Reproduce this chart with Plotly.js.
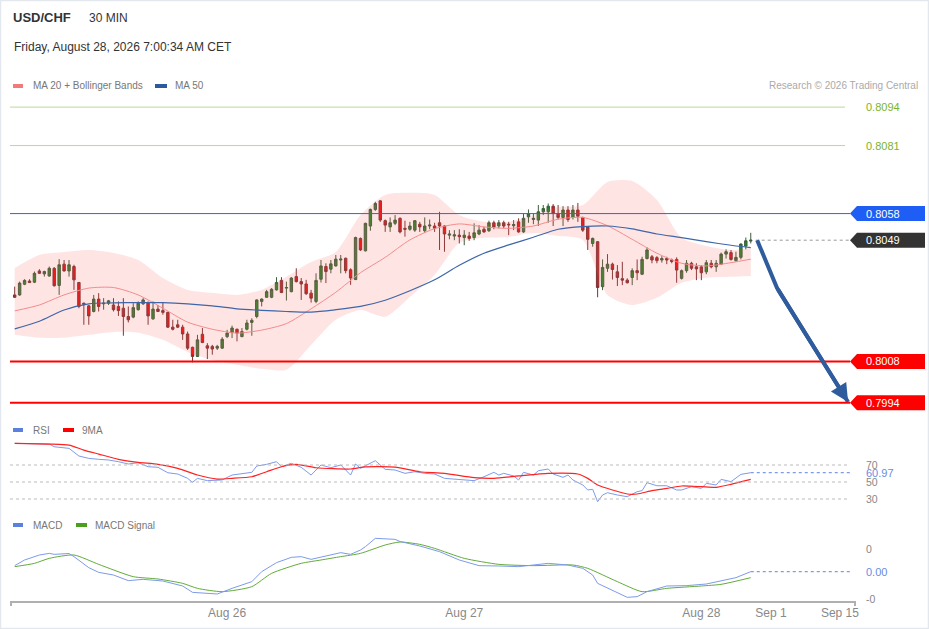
<!DOCTYPE html>
<html><head><meta charset="utf-8">
<script src="https://cdn.plot.ly/plotly-3.0.1.min.js"></script>
<style>html,body{margin:0;padding:0;background:#fff}#chart{width:929px;height:629px}</style>
</head><body><div id="chart"></div>
<script>
// ---------------- DATA ----------------
const symbol = "USD/CHF";
const timeframe = "30 MIN";
const stamp = "Friday, August 28, 2026 7:00:34 AM CET";

const opens = [0.80305,0.80305,0.80341,0.80352,0.80348,0.80386,0.80376,0.80369,0.80395,0.80337,
0.80409,0.80386,0.80401,0.80347,0.80277,0.80268,0.80249,0.80291,0.80275,0.80277,
0.80271,0.80266,0.80260,0.80232,0.80230,0.80255,0.80275,0.80279,0.80224,0.80257,
0.80252,0.80246,0.80196,0.80204,0.80196,0.80173,0.80128,0.80097,0.80172,0.80133,
0.80131,0.80125,0.80125,0.80164,0.80178,0.80189,0.80164,0.80189,0.80212,0.80232,
0.80283,0.80297,0.80297,0.80322,0.80354,0.80328,0.80316,0.80367,0.80350,0.80342,
0.80311,0.80283,0.80358,0.80401,0.80392,0.80403,0.80423,0.80429,0.80390,0.80357,
0.80496,0.80454,0.80538,0.80594,0.80623,0.80556,0.80535,0.80547,0.80564,0.80530,
0.80527,0.80524,0.80544,0.80522,0.80538,0.80538,0.80549,0.80538,0.80507,0.80504,
0.80507,0.80499,0.80504,0.80499,0.80511,0.80527,0.80522,0.80549,0.80538,0.80549,
0.80544,0.80539,0.80552,0.80518,0.80569,0.80560,0.80558,0.80586,0.80586,0.80605,
0.80580,0.80567,0.80592,0.80567,0.80592,0.80567,0.80535,0.80479,0.80485,0.80333,
0.80395,0.80409,0.80383,0.80360,0.80355,0.80364,0.80387,0.80375,0.80428,0.80434,
0.80431,0.80423,0.80428,0.80423,0.80425,0.80361,0.80387,0.80412,0.80400,0.80400,
0.80383,0.80412,0.80400,0.80409,0.80443,0.80448,0.80421,0.80432,0.80470,0.80487];

const highs = [0.80333,0.80350,0.80358,0.80358,0.80384,0.80392,0.80387,0.80401,0.80399,0.80426,
0.80423,0.80423,0.80407,0.80349,0.80279,0.80271,0.80305,0.80311,0.80294,0.80288,
0.80294,0.80283,0.80294,0.80266,0.80277,0.80283,0.80294,0.80283,0.80283,0.80271,
0.80279,0.80248,0.80221,0.80221,0.80204,0.80181,0.80130,0.80170,0.80193,0.80142,
0.80136,0.80136,0.80162,0.80187,0.80201,0.80191,0.80193,0.80221,0.80226,0.80290,
0.80293,0.80322,0.80328,0.80365,0.80365,0.80350,0.80365,0.80395,0.80362,0.80356,
0.80322,0.80378,0.80423,0.80412,0.80423,0.80440,0.80440,0.80431,0.80395,0.80502,
0.80499,0.80549,0.80597,0.80620,0.80625,0.80560,0.80567,0.80575,0.80567,0.80556,
0.80552,0.80558,0.80552,0.80567,0.80560,0.80549,0.80586,0.80541,0.80524,0.80524,
0.80527,0.80524,0.80518,0.80547,0.80541,0.80535,0.80556,0.80556,0.80558,0.80556,
0.80552,0.80558,0.80564,0.80580,0.80594,0.80580,0.80609,0.80609,0.80614,0.80612,
0.80609,0.80605,0.80605,0.80609,0.80616,0.80569,0.80538,0.80499,0.80487,0.80425,
0.80443,0.80414,0.80406,0.80417,0.80361,0.80395,0.80425,0.80434,0.80466,0.80440,
0.80436,0.80436,0.80434,0.80428,0.80432,0.80391,0.80423,0.80417,0.80412,0.80406,
0.80423,0.80423,0.80423,0.80448,0.80459,0.80457,0.80451,0.80479,0.80499,0.80515];

const lows = [0.80295,0.80302,0.80338,0.80345,0.80345,0.80376,0.80367,0.80367,0.80333,0.80305,
0.80384,0.80367,0.80322,0.80260,0.80204,0.80204,0.80246,0.80249,0.80255,0.80271,
0.80249,0.80234,0.80167,0.80212,0.80226,0.80252,0.80271,0.80204,0.80221,0.80247,
0.80238,0.80193,0.80185,0.80193,0.80153,0.80119,0.80077,0.80095,0.80142,0.80088,
0.80103,0.80119,0.80123,0.80159,0.80159,0.80148,0.80162,0.80185,0.80167,0.80226,
0.80266,0.80295,0.80294,0.80320,0.80311,0.80286,0.80314,0.80347,0.80288,0.80305,
0.80279,0.80277,0.80347,0.80345,0.80378,0.80401,0.80378,0.80378,0.80339,0.80355,
0.80454,0.80452,0.80522,0.80589,0.80552,0.80518,0.80518,0.80541,0.80513,0.80502,
0.80522,0.80518,0.80518,0.80515,0.80527,0.80518,0.80457,0.80451,0.80493,0.80490,
0.80479,0.80473,0.80488,0.80490,0.80507,0.80515,0.80518,0.80527,0.80530,0.80530,
0.80507,0.80524,0.80515,0.80515,0.80549,0.80544,0.80538,0.80575,0.80549,0.80538,
0.80560,0.80538,0.80552,0.80560,0.80552,0.80518,0.80457,0.80468,0.80297,0.80321,
0.80383,0.80357,0.80335,0.80338,0.80344,0.80338,0.80355,0.80372,0.80425,0.80412,
0.80412,0.80414,0.80409,0.80412,0.80346,0.80357,0.80380,0.80389,0.80355,0.80355,
0.80375,0.80395,0.80383,0.80406,0.80428,0.80421,0.80417,0.80425,0.80459,0.80479];

const closes = [0.80297,0.80345,0.80354,0.80347,0.80378,0.80378,0.80384,0.80395,0.80336,0.80407,
0.80386,0.80407,0.80356,0.80266,0.80273,0.80234,0.80291,0.80266,0.80277,0.80285,
0.80255,0.80252,0.80232,0.80221,0.80262,0.80277,0.80288,0.80234,0.80257,0.80249,
0.80246,0.80196,0.80189,0.80196,0.80173,0.80125,0.80097,0.80153,0.80144,0.80125,
0.80122,0.80131,0.80155,0.80176,0.80193,0.80176,0.80181,0.80210,0.80219,0.80288,
0.80291,0.80316,0.80324,0.80347,0.80313,0.80330,0.80362,0.80350,0.80342,0.80309,
0.80294,0.80354,0.80403,0.80384,0.80410,0.80426,0.80426,0.80387,0.80362,0.80499,
0.80457,0.80547,0.80594,0.80614,0.80558,0.80541,0.80549,0.80558,0.80518,0.80527,
0.80538,0.80556,0.80535,0.80538,0.80541,0.80530,0.80538,0.80511,0.80511,0.80508,
0.80502,0.80507,0.80496,0.80515,0.80524,0.80518,0.80549,0.80535,0.80549,0.80538,
0.80542,0.80543,0.80518,0.80564,0.80580,0.80564,0.80586,0.80597,0.80605,0.80580,
0.80567,0.80592,0.80560,0.80592,0.80571,0.80524,0.80493,0.80496,0.80330,0.80398,
0.80409,0.80391,0.80364,0.80355,0.80346,0.80387,0.80380,0.80425,0.80457,0.80423,
0.80421,0.80428,0.80423,0.80418,0.80389,0.80387,0.80412,0.80395,0.80393,0.80380,
0.80414,0.80400,0.80412,0.80443,0.80451,0.80425,0.80432,0.80477,0.80488,0.80490];

// indicator samples (candle index -> value)
const bandIdx = [0,5,10,15,20,25,30,35,40,45,50,55,60,65,70,75,80,85,90,95,100,105,110,115,120,125,130,135,140,145,149];
const ma20 = [0.80251,0.80271,0.80305,0.80328,0.80330,0.80305,0.80260,0.80213,0.80189,0.80176,0.80186,0.80208,0.80258,0.80314,0.80380,0.80432,0.80491,0.80529,0.80545,0.80535,0.80530,0.80538,0.80561,0.80567,0.80539,0.80493,0.80446,0.80412,0.80403,0.80414,0.80426];
const ma50 = [0.80190,0.80216,0.80254,0.80275,0.80278,0.80279,0.80279,0.80275,0.80268,0.80258,0.80253,0.80249,0.80247,0.80255,0.80266,0.80287,0.80319,0.80356,0.80405,0.80446,0.80474,0.80500,0.80527,0.80536,0.80538,0.80528,0.80511,0.80499,0.80485,0.80473,0.80465];
const bbUpper = [0.80396,0.80440,0.80450,0.80457,0.80447,0.80423,0.80362,0.80322,0.80312,0.80305,0.80322,0.80366,0.80416,0.80450,0.80575,0.80643,0.80650,0.80643,0.80575,0.80552,0.80552,0.80575,0.80602,0.80609,0.80687,0.80690,0.80626,0.80498,0.80470,0.80457,0.80464];
const bbLower = [0.80170,0.80160,0.80160,0.80170,0.80180,0.80177,0.80153,0.80112,0.80085,0.80069,0.80055,0.80052,0.80136,0.80221,0.80254,0.80231,0.80298,0.80373,0.80481,0.80498,0.80501,0.80514,0.80504,0.80491,0.80305,0.80271,0.80295,0.80346,0.80363,0.80366,0.80369];

const rsiIdx = [0,7,8,11,13,15,17,19,21,23,25,27,29,31,33,35,36,37,39,42,44,46,48,49,51,53,54,56,58,60,62,64,66,68,69,70,72,73,75,77,79,81,83,85,87,89,91,93,95,97,98,99,101,102,103,105,106,108,109,111,112,113,115,116,117,118,119,120,122,124,126,127,128,130,132,134,135,137,139,140,142,143,145,147,149];
const rsiVal = [95.5,94.7,91.5,89.6,80.6,77.8,76.7,75.9,73.9,71.2,72.7,68.0,67.3,60.9,59.4,54.3,49.6,54.3,51.6,52.4,58.2,59.4,61.4,68.8,70.8,73.9,68.0,72.0,67.3,58.2,70.0,66.8,70.0,58.2,71.2,66.1,72.0,75.1,64.9,64.1,60.2,62.1,60.2,59.4,54.3,53.5,53.1,51.6,56.2,61.4,58.2,60.2,57.1,52.4,61.4,58.2,63.3,65.3,59.4,55.5,58.2,52.4,46.5,40.6,41.4,26.8,34.7,37.4,34.7,32.7,38.6,39.8,49.2,45.6,45.6,40.6,40.6,44.5,42.5,48.4,46.5,53.1,50.4,59.0,60.97];
const rsiMaIdx = [0,7,11,14,17,21,25,29,33,37,41,44,48,51,54,57,61,68,71,77,82,87,93,97,102,108,114,116,118,121,124,126,129,132,135,139,142,145,149];
const rsiMaVal = [95.5,94.7,93.5,87.6,82.9,76.7,73.1,70.8,66.1,58.2,53.5,54.3,56.2,62.1,68.0,70.8,66.8,65.3,67.8,67.5,62.1,60.2,55.1,54.3,57.1,60.2,59.4,54.3,46.5,40.6,35.9,35.9,39.8,42.5,45.3,44.5,43.7,47.3,53.1];
const rsiLevels = [70, 50, 30];

const macdIdx = [0,2,5,7,8,10,11,12,15,17,20,23,26,30,34,36,39,41,44,48,50,53,56,58,60,63,66,68,70,71,73,77,78,82,86,90,94,98,102,108,112,115,117,118,121,124,126,128,132,136,140,144,146,149];
const macdVal = [0.000167,0.00028,0.00038,0.000413,0.000393,0.00041,0.00041,0.000347,0.000127,0.000033,-0.00002,-0.000133,-0.000107,-0.00014,-0.00024,-0.000367,-0.000387,-0.0004,-0.000287,-0.000153,0.000047,0.000227,0.000333,0.000347,0.000293,0.000367,0.000427,0.000393,0.00048,0.000547,0.000713,0.000693,0.00065,0.00056,0.000447,0.00028,0.000167,0.00016,0.000147,0.000213,0.00018,0.000113,-0.00002,-0.000187,-0.00032,-0.000467,-0.000453,-0.000353,-0.00024,-0.000233,-0.0002,-0.00012,-0.000073,0.000047];
const sigIdx = [0,4,7,12,17,24,29,34,37,42,48,52,58,62,66,70,75,78,82,85,91,98,105,113,116,122,127,132,139,143,149];
const sigVal = [0.000147,0.000213,0.000313,0.00038,0.000193,-0.000053,-0.0001,-0.000187,-0.000287,-0.000353,-0.000253,0.000013,0.000213,0.00028,0.000347,0.000413,0.00058,0.00064,0.000593,0.000513,0.000313,0.000193,0.000167,0.00018,0.000113,-0.000153,-0.000353,-0.000287,-0.00024,-0.000207,-0.000073];
const macdTickVals = [0.0005, -0.0005];
const macdTickText = ["0", "-0"];

const levelsTarget = [0.8094, 0.8081];
const levelPivot = 0.8058;
const levelsSupport = [0.8008, 0.7994];

const forecastIdx = [150.3, 154.3, 168.7];
const forecastVal = [0.8049, 0.80329, 0.79943];

const tickIdx = [43, 91, 139, 153.1, 167.05];
const tickText = ["Aug 26", "Aug 27", "Aug 28", "Sep 1", "Sep 15"];

// ---------------- LAYOUT HELPERS ----------------
const W = 929, H = 629, ML = 10, MR = 74, MT = 0, MB = 28;
const PW = W - ML - MR, PH = H - MT - MB;
const fx = px => (px - ML) / PW;            // pixel x -> paper
const fy = py => (PH + MT - py) / PH;       // pixel y -> paper
const xRange = [-0.95, 170.1];
const xAtPaper = f => xRange[0] + f * (xRange[1] - xRange[0]);

const mainDom = [fy(415), fy(100)], mainRange = [0.79899, 0.80964];
const rsiDom = [fy(508), fy(438)], rsiRange = [19.4, 101.8];
const macdDom = [0, fy(530)], macdRange = [-0.00054, 0.00088];
const toPaper = (v, dom, rng) => dom[0] + (v - rng[0]) / (rng[1] - rng[0]) * (dom[1] - dom[0]);

const FONT = "Liberation Sans, Arial, sans-serif";
const idx = closes.map((_, i) => i);
const lastI = idx[idx.length - 1];
const lastClose = closes[closes.length - 1];
const lastRsi = rsiVal[rsiVal.length - 1];
const lastMacd = macdVal[macdVal.length - 1];
const xEnd = xAtPaper(fx(850));

const traces = [
  {x: bandIdx, y: bbUpper, type: 'scatter', mode: 'lines', line: {width: 0, shape: 'spline', smoothing: 0.7}, hoverinfo: 'skip', xaxis: 'x', yaxis: 'y'},
  {x: bandIdx, y: bbLower, type: 'scatter', mode: 'lines', line: {width: 0, shape: 'spline', smoothing: 0.7}, fill: 'tonexty', fillcolor: 'rgba(255,90,90,0.16)', hoverinfo: 'skip', xaxis: 'x', yaxis: 'y'},
  {x: bandIdx, y: ma20, type: 'scatter', mode: 'lines', line: {width: 1, color: '#f38b8b', shape: 'spline', smoothing: 0.7}, hoverinfo: 'skip', xaxis: 'x', yaxis: 'y'},
  {x: bandIdx, y: ma50, type: 'scatter', mode: 'lines', line: {width: 1.2, color: '#3e66a8', shape: 'spline', smoothing: 0.7}, hoverinfo: 'skip', xaxis: 'x', yaxis: 'y'},
  {type: 'candlestick', x: idx, open: opens, high: highs, low: lows, close: closes,
   increasing: {line: {color: '#3c5e3c', width: 1}, fillcolor: '#2a8a2a'},
   decreasing: {line: {color: '#7a3434', width: 1}, fillcolor: '#ee1111'},
   whiskerwidth: 0, hoverinfo: 'skip', xaxis: 'x', yaxis: 'y'},
  {x: [lastI + 1, xEnd], y: [lastClose, lastClose], type: 'scatter', mode: 'lines', line: {width: 1, color: '#999', dash: 'dot'}, hoverinfo: 'skip', xaxis: 'x', yaxis: 'y'},
  {x: forecastIdx, y: forecastVal, type: 'scatter', mode: 'lines', line: {width: 4, color: '#2f5c9c'}, hoverinfo: 'skip', xaxis: 'x', yaxis: 'y'},
  // RSI
  {x: rsiIdx, y: rsiVal, type: 'scatter', mode: 'lines', line: {width: 1, color: '#7d9bea'}, hoverinfo: 'skip', xaxis: 'x', yaxis: 'y2'},
  {x: rsiMaIdx, y: rsiMaVal, type: 'scatter', mode: 'lines', line: {width: 1.2, color: '#f22', shape: 'spline', smoothing: 0.6}, hoverinfo: 'skip', xaxis: 'x', yaxis: 'y2'},
  {x: [lastI, xEnd], y: [lastRsi, lastRsi], type: 'scatter', mode: 'lines', line: {width: 1.2, color: '#7d9bea', dash: 'dot'}, hoverinfo: 'skip', xaxis: 'x', yaxis: 'y2'},
  // MACD
  {x: sigIdx, y: sigVal, type: 'scatter', mode: 'lines', line: {width: 1, color: '#62ab3a', shape: 'spline', smoothing: 0.6}, hoverinfo: 'skip', xaxis: 'x', yaxis: 'y3'},
  {x: macdIdx, y: macdVal, type: 'scatter', mode: 'lines', line: {width: 1, color: '#7d9bea'}, hoverinfo: 'skip', xaxis: 'x', yaxis: 'y3'},
  {x: [lastI, xEnd], y: [lastMacd, lastMacd], type: 'scatter', mode: 'lines', line: {width: 1.2, color: '#7d9bea', dash: 'dot'}, hoverinfo: 'skip', xaxis: 'x', yaxis: 'y3'}
];

const shapes = [];
const annotations = [];

// outer frame
shapes.push({type: 'rect', xref: 'paper', yref: 'paper', x0: fx(0.5), x1: fx(928.5), y0: fy(628.5), y1: fy(0.5), line: {color: '#e3e8ee', width: 1.5}});

// target levels (green)
levelsTarget.forEach(v => {
  shapes.push({type: 'line', xref: 'x', yref: 'y', x0: xRange[0], x1: xAtPaper(fx(845)), y0: v, y1: v, line: {color: '#b9d99c', width: 1}});
  annotations.push({xref: 'paper', yref: 'y', x: fx(864), y: v, xanchor: 'left', yanchor: 'middle', text: v.toFixed(4), showarrow: false, font: {family: FONT, size: 11, color: '#7cb32a'}});
});

// tag helper
function tag(v, color, lineColor, lineW, drawLine) {
  if (drawLine) shapes.push({type: 'line', xref: 'x', yref: 'y', x0: xRange[0], x1: xEnd, y0: v, y1: v, line: {color: lineColor, width: lineW}});
  const yc = toPaper(v, mainDom, mainRange), h = 7.5 / PH;
  const xa = fx(850), xb = fx(857), xc = fx(925);
  shapes.push({type: 'path', xref: 'paper', yref: 'paper', fillcolor: color, line: {width: 0},
    path: `M ${xa},${yc} L ${xb},${yc + h} L ${xc},${yc + h} L ${xc},${yc - h} L ${xb},${yc - h} Z`});
  annotations.push({xref: 'paper', yref: 'paper', x: fx(864), y: yc, xanchor: 'left', yanchor: 'middle', text: v.toFixed(4), showarrow: false, font: {family: FONT, size: 11, color: '#ffffff'}});
}
tag(levelPivot, '#1f5ef5', '#3362e0', 1, true);
tag(lastClose, '#333333', '#999', 1, false);
levelsSupport.forEach(v => tag(v, '#ff0000', '#ff0000', 2, true));

// forecast arrowhead
annotations.push({xref: 'x', yref: 'y', axref: 'x', ayref: 'y', x: forecastIdx[2], y: forecastVal[2], ax: forecastIdx[1], ay: forecastVal[1],
  text: '', showarrow: true, arrowhead: 2, arrowsize: 0.9, arrowwidth: 4, arrowcolor: '#2f5c9c', standoff: 0});

// RSI level lines + labels
rsiLevels.forEach(v => {
  shapes.push({type: 'line', xref: 'x', yref: 'y2', x0: xRange[0], x1: xEnd, y0: v, y1: v, line: {color: '#bbb', width: 1, dash: 'dot'}});
  annotations.push({xref: 'paper', yref: 'y2', x: fx(864), y: v, xanchor: 'left', yanchor: 'middle', text: String(v), showarrow: false, font: {family: FONT, size: 10.5, color: '#888'}});
});
annotations.push({xref: 'paper', yref: 'y2', x: fx(864), y: lastRsi, xanchor: 'left', yanchor: 'middle', text: lastRsi.toFixed(2), showarrow: false, font: {family: FONT, size: 11, color: '#6a8ae6'}});

// MACD labels
macdTickVals.forEach((v, k) => annotations.push({xref: 'paper', yref: 'y3', x: fx(864), y: v, xanchor: 'left', yanchor: 'middle', text: macdTickText[k], showarrow: false, font: {family: FONT, size: 10.5, color: '#888'}}));
annotations.push({xref: 'paper', yref: 'y3', x: fx(864), y: lastMacd, xanchor: 'left', yanchor: 'middle', text: Math.abs(lastMacd).toFixed(2), showarrow: false, font: {family: FONT, size: 11, color: '#6a8ae6'}});

// x axis end ticks
[fx(11), fx(855)].forEach(xp => shapes.push({type: 'line', xref: 'paper', yref: 'paper', x0: xp, x1: xp, y0: 0, y1: fy(606), line: {color: '#b0b0b0', width: 2}}));

// header texts
annotations.push({xref: 'paper', yref: 'paper', x: fx(11), y: fy(18), xanchor: 'left', yanchor: 'middle', text: '<b>' + symbol + '</b>', showarrow: false, font: {family: FONT, size: 13, color: '#333'}});
annotations.push({xref: 'paper', yref: 'paper', x: fx(87), y: fy(18), xanchor: 'left', yanchor: 'middle', text: timeframe, showarrow: false, font: {family: FONT, size: 12, color: '#333'}});
annotations.push({xref: 'paper', yref: 'paper', x: fx(12), y: fy(47), xanchor: 'left', yanchor: 'middle', text: stamp, showarrow: false, font: {family: FONT, size: 12, color: '#333'}});
annotations.push({xref: 'paper', yref: 'paper', x: fx(920), y: fy(86), xanchor: 'right', yanchor: 'middle', text: 'Research © 2026 Trading Central', showarrow: false, font: {family: FONT, size: 10, color: '#aaa'}});

// legends
function legendItem(pxS, pxE, py, color, label, pxT) {
  shapes.push({type: 'rect', xref: 'paper', yref: 'paper', x0: fx(pxS), x1: fx(pxE), y0: fy(py + 2), y1: fy(py - 2), fillcolor: color, line: {width: 0}});
  annotations.push({xref: 'paper', yref: 'paper', x: fx(pxT), y: fy(py), xanchor: 'left', yanchor: 'middle', text: label, showarrow: false, font: {family: FONT, size: 10, color: '#777'}});
}
legendItem(13, 23, 86, '#f47a7a', 'MA 20 + Bollinger Bands', 31);
legendItem(155, 167, 86, '#2d5a9c', 'MA 50', 173);
legendItem(13, 23, 430, '#5b80e0', 'RSI', 31);
legendItem(63, 74, 430, '#ff0000', '9MA', 80);
legendItem(13, 23, 525, '#5b80e0', 'MACD', 31);
legendItem(76, 87, 525, '#4c9f1e', 'MACD Signal', 93);

const hiddenY = {showgrid: false, zeroline: false, showline: false, showticklabels: false, ticks: '', fixedrange: true};

const layout = {
  width: W, height: H,
  margin: {l: ML, r: MR, t: MT, b: MB},
  paper_bgcolor: '#ffffff', plot_bgcolor: '#ffffff',
  showlegend: false,
  font: {family: FONT},
  xaxis: {range: xRange, anchor: 'y3', showgrid: false, zeroline: false, showline: true, linecolor: '#b0b0b0', linewidth: 2,
          tickmode: 'array', tickvals: tickIdx, ticktext: tickText, ticks: '', tickfont: {family: FONT, size: 12, color: '#888'},
          rangeslider: {visible: false}, fixedrange: true},
  yaxis: Object.assign({domain: mainDom, range: mainRange}, hiddenY),
  yaxis2: Object.assign({domain: rsiDom, range: rsiRange}, hiddenY),
  yaxis3: Object.assign({domain: macdDom, range: macdRange}, hiddenY),
  shapes: shapes,
  annotations: annotations
};

Plotly.newPlot('chart', traces, layout, {displayModeBar: false, staticPlot: true});
</script>
</body></html>
